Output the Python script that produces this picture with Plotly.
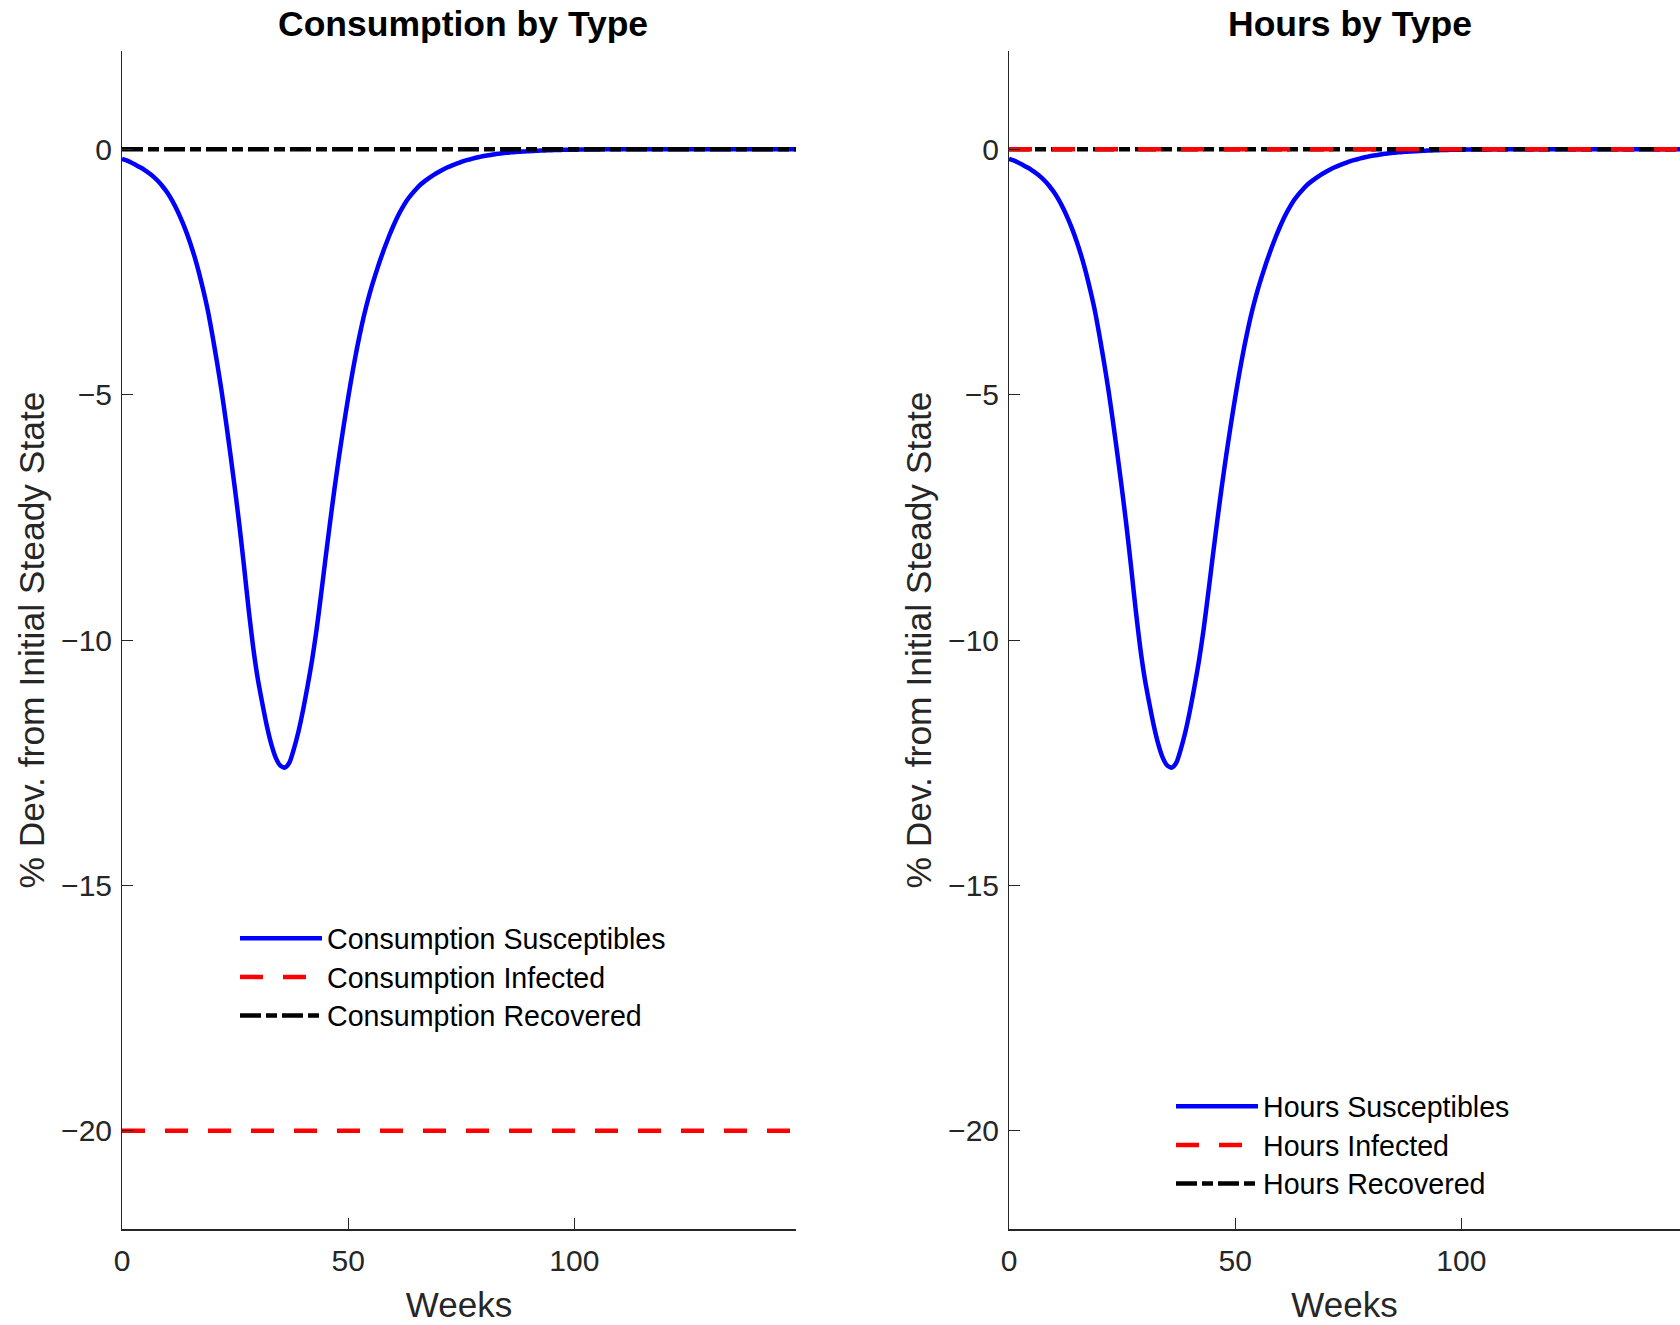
import plotly.graph_objects as go

# ---------------- data ----------------
weeks = list(range(0, 150))

consumption_susceptibles = [
    -0.20, -0.23, -0.27, -0.32, -0.37, -0.425, -0.49, -0.565, -0.655, -0.76,
    -0.885, -1.035, -1.21, -1.41, -1.635, -1.89, -2.18, -2.51, -2.885, -3.30,
    -3.80, -4.34, -4.92, -5.56, -6.24, -6.95, -7.70, -8.52, -9.38, -10.15,
    -10.78, -11.28, -11.74, -12.12, -12.40, -12.56, -12.60, -12.50, -12.22, -11.87,
    -11.44, -10.95, -10.42, -9.80, -9.08, -8.33, -7.60, -6.90, -6.25, -5.64,
    -5.06, -4.52, -4.03, -3.59, -3.20, -2.86, -2.56, -2.28, -2.02, -1.78,
    -1.56, -1.36, -1.19, -1.04, -0.92, -0.815, -0.72, -0.645, -0.58, -0.52,
    -0.465, -0.415, -0.37, -0.33, -0.295, -0.26, -0.23, -0.205, -0.18, -0.16,
    -0.14, -0.125, -0.11, -0.095, -0.085, -0.075, -0.065, -0.058, -0.051, -0.045,
    -0.04, -0.035, -0.03, -0.027, -0.024, -0.021, -0.018, -0.015, -0.013, -0.011,
    -0.010, -0.009, -0.008, -0.007, -0.006, -0.005, -0.004, -0.004, -0.003, -0.003,
    -0.002, -0.002, -0.002, -0.001, -0.001, -0.001, -0.001, 0.000, 0.000, 0.000,
    0.000, 0.000, 0.000, 0.000, 0.000, 0.000, 0.000, 0.000, 0.000, 0.000,
    0.000, 0.000, 0.000, 0.000, 0.000, 0.000, 0.000, 0.000, 0.000, 0.000,
    0.000, 0.000, 0.000, 0.000, 0.000, 0.000, 0.000, 0.000, 0.000, 0.000,
]
hours_susceptibles = list(consumption_susceptibles)  # reads identical in the picture

flat_weeks = [0, 149]
consumption_infected = [-20, -20]
consumption_recovered = [0, 0]
hours_infected = [0, 0]
hours_recovered = [0, 0]

titles = ["Consumption by Type", "Hours by Type"]
y_ticks = [-20, -15, -10, -5, 0]
y_tick_labels = ["\u221220", "\u221215", "\u221210", "\u22125", "0"]
x_ticks = [0, 50, 100]
x_tick_labels = ["0", "50", "100"]

# ---------------- styling ----------------
FONT = "Liberation Sans, Arial, Helvetica, sans-serif"
AX = "#262626"
LW = 4.5
BLUE, RED, BLACK = "#0000ff", "#ff0000", "#000000"
DASH_RED = "23px,20px"
DASH_DOT = "21px,5px,11px,5px"
LEG_TXT = 28.6   # drawn size of legend text
LEG_ROW = 27.4   # legend font size that sets the row spacing

def leg_name(s):
    return "<span style='font-size:%spx'>%s</span>" % (LEG_TXT, s)

fig = go.Figure()

def add_panel(xa, ya, leg, prefix, s_vals, i_vals, r_vals):
    fig.add_trace(go.Scatter(x=weeks, y=s_vals, mode="lines", name=leg_name(prefix + " Susceptibles"),
                             line=dict(color=BLUE, width=LW, shape="spline", smoothing=0.6),
                             xaxis=xa, yaxis=ya, legend=leg, legendrank=1))
    fig.add_trace(go.Scatter(x=flat_weeks, y=r_vals, mode="lines", name=leg_name(prefix + " Recovered"),
                             line=dict(color=BLACK, width=LW, dash=DASH_DOT), xaxis=xa, yaxis=ya,
                             legend=leg, legendrank=3))
    fig.add_trace(go.Scatter(x=flat_weeks, y=i_vals, mode="lines", name=leg_name(prefix + " Infected"),
                             line=dict(color=RED, width=LW, dash=DASH_RED), xaxis=xa, yaxis=ya,
                             legend=leg, legendrank=2))

add_panel("x", "y", "legend", "Consumption", consumption_susceptibles,
          consumption_infected, consumption_recovered)
add_panel("x2", "y2", "legend2", "Hours", hours_susceptibles,
          hours_infected, hours_recovered)

W, H = 1680, 1325
ML, MR, MT, MB = 122, 0, 51, 96
PW = W - ML - MR
PH = H - MT - MB

common_x = dict(showgrid=False, zeroline=False, showline=True, linecolor=AX, linewidth=1.5,
                ticks="inside", ticklen=11, tickcolor=AX, tickwidth=1,
                tickvals=x_ticks, ticktext=x_tick_labels, ticklabelstandoff=4,
                tickfont=dict(family=FONT, size=30, color=AX),
                title=dict(text="Weeks", font=dict(family=FONT, size=35, color=AX), standoff=17))
common_y = dict(showgrid=False, zeroline=False, showline=True, linecolor=AX, linewidth=1,
                ticks="inside", ticklen=11, tickcolor=AX, tickwidth=1,
                tickvals=y_ticks, ticktext=y_tick_labels, range=[-22, 2], ticklabelstandoff=3,
                tickfont=dict(family=FONT, size=30, color=AX),
                title=dict(text="% Dev. from Initial Steady State",
                           font=dict(family=FONT, size=35.4, color=AX), standoff=5))

panel_w = 674
x1_dom = [0, panel_w / PW]
x2_dom = [887 / PW, 1]
x2_max = 149 * (PW * (x2_dom[1] - x2_dom[0])) / panel_w

leg_font = dict(family=FONT, size=LEG_ROW, color="black")
fig.update_layout(
    width=W, height=H,
    margin=dict(l=ML, r=MR, t=MT, b=MB, autoexpand=False),
    paper_bgcolor="white", plot_bgcolor="white",
    xaxis=dict(common_x, domain=x1_dom, range=[0, 149], anchor="y"),
    yaxis=dict(common_y, domain=[0, 1], anchor="x"),
    xaxis2=dict(common_x, domain=x2_dom, range=[0, x2_max], anchor="y2"),
    yaxis2=dict(common_y, domain=[0, 1], anchor="x2"),
    legend=dict(x=(235 - ML) / PW, y=1 - (914 - MT) / PH, xanchor="left", yanchor="top",
                font=leg_font, bgcolor="rgba(0,0,0,0)", itemwidth=82),
    legend2=dict(x=(1171 - ML) / PW, y=1 - (1082 - MT) / PH, xanchor="left", yanchor="top",
                 font=leg_font, bgcolor="rgba(0,0,0,0)", itemwidth=82),
    showlegend=True,
)

for i, t in enumerate(titles):
    left = x1_dom[0] if i == 0 else x2_dom[0]
    cx = left + (panel_w / PW) / 2 + 4 / PW
    fig.add_annotation(text="<b>" + t + "</b>", xref="paper", yref="paper",
                       x=cx, y=1 + (MT - 24) / PH,
                       xanchor="center", yanchor="middle", showarrow=False,
                       font=dict(family=FONT, size=35.5, color="black"))

# the page body's default 8px margin would shift the fixed-size figure
fig.write_html("out.html", config={"displayModeBar": False},
               post_script="document.body.style.margin='0px';")
